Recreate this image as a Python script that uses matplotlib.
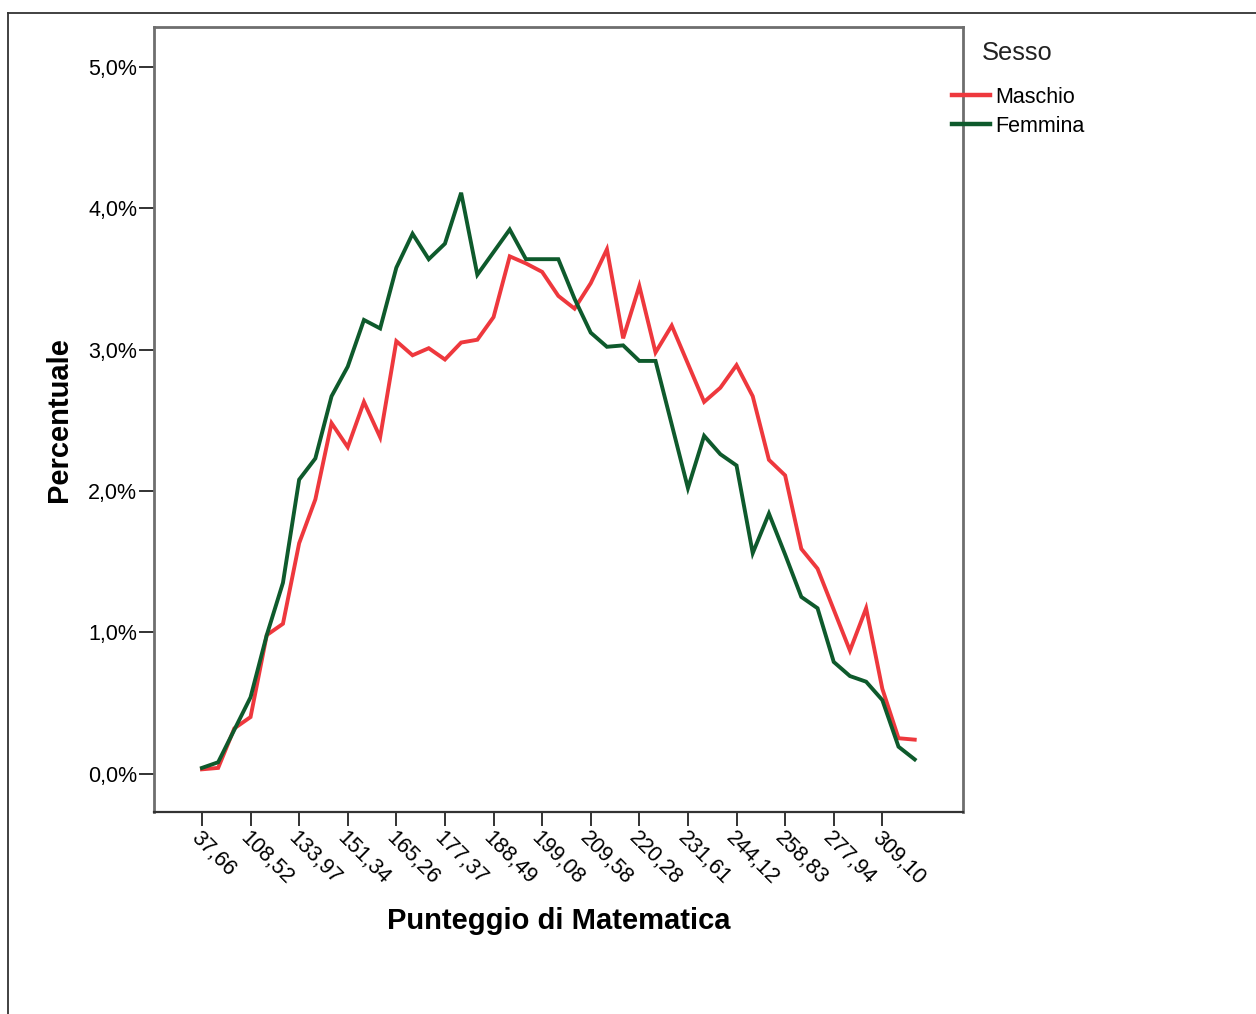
import matplotlib
matplotlib.use("Agg")
import matplotlib.pyplot as plt
from matplotlib.lines import Line2D
from matplotlib.ticker import FuncFormatter
from matplotlib.transforms import ScaledTranslation
import numpy as np

plt.rcParams['font.family'] = ['Liberation Sans', 'DejaVu Sans']

# ---- data ----
tick_labels = ['37,66', '108,52', '133,97', '151,34', '165,26', '177,37', '188,49',
               '199,08', '209,58', '220,28', '231,61', '244,12', '258,83', '277,94', '309,10']
maschio = [0.03, 0.04, 0.32, 0.40, 0.98, 1.06, 1.63, 1.94, 2.48, 2.31,
           2.63, 2.38, 3.06, 2.96, 3.01, 2.93, 3.05, 3.07, 3.23, 3.66,
           3.61, 3.55, 3.38, 3.29, 3.47, 3.71, 3.08, 3.45, 2.98, 3.17,
           2.90, 2.63, 2.73, 2.89, 2.67, 2.22, 2.11, 1.59, 1.45, 1.16,
           0.87, 1.17, 0.60, 0.25, 0.24]
femmina = [0.04, 0.08, 0.31, 0.54, 0.98, 1.35, 2.08, 2.23, 2.67, 2.88,
           3.21, 3.15, 3.58, 3.82, 3.64, 3.75, 4.11, 3.53, 3.69, 3.85,
           3.64, 3.64, 3.64, 3.36, 3.12, 3.02, 3.03, 2.92, 2.92, 2.47,
           2.02, 2.39, 2.26, 2.18, 1.56, 1.84, 1.55, 1.25, 1.17, 0.79,
           0.69, 0.65, 0.52, 0.19, 0.10]
series_names = ['Maschio', 'Femmina']
series_colors = ['#EE383D', '#0E5A2C']
y_ticks = [0, 1, 2, 3, 4, 5]

W, H = 1256, 1014
fig = plt.figure(figsize=(W / 100, H / 100), dpi=100)
fig.patch.set_facecolor('white')

# outer frame (top and left)
fig.add_artist(Line2D([8 / W, 8 / W], [0, 1 - 13 / H], color='#333333', lw=1.3))
fig.add_artist(Line2D([8 / W, 1], [1 - 13 / H, 1 - 13 / H], color='#333333', lw=1.3))

ax = fig.add_axes([154 / W, 1 - 812 / H, (963 - 154) / W, (812 - 27) / H])

x = np.arange(len(maschio))
for vals, name, col in zip([maschio, femmina], series_names, series_colors):
    ax.plot(x, vals, color=col, lw=2.8, label=name, solid_joinstyle='miter')

ax.set_xlim(-2.96, len(maschio) - 1 + 2.98)
ax.set_ylim(-0.272, 5.283)

ax.set_xticks(x[::3])
ax.set_xticklabels(tick_labels, rotation=-45, ha='left', va='top',
                   rotation_mode='anchor', fontsize=15.5)
shift = ScaledTranslation(4 / 100, 0, fig.dpi_scale_trans)
for lbl in ax.get_xticklabels():
    lbl.set_transform(lbl.get_transform() + shift)
ax.set_yticks(y_ticks)
ax.yaxis.set_major_formatter(FuncFormatter(lambda v, p: f"{v:.1f}%".replace('.', ',')))
ax.tick_params(axis='y', labelsize=15.5, length=11, width=1.3, color='#222222', pad=1)
ax.tick_params(axis='x', length=10, width=1.3, color='#222222', pad=1)

for s in ['left', 'top', 'right']:
    ax.spines[s].set_color('#6e6e6e')
    ax.spines[s].set_linewidth(2.0)
ax.spines['bottom'].set_color('#333333')
ax.spines['bottom'].set_linewidth(1.6)

ax.set_ylabel('Percentuale', fontsize=21, fontweight='bold', labelpad=11)
ax.set_xlabel('Punteggio di Matematica', fontsize=21, fontweight='bold', labelpad=13)

# legend
fig.text(982 / W, 1 - 53 / H, 'Sesso', fontsize=18.4, ha='left', va='center', color='#222222')
leg = ax.legend(loc='upper left', bbox_to_anchor=(952 / W, 1 - 87 / H),
                bbox_transform=fig.transFigure, frameon=False, fontsize=15.5,
                handlelength=1.77, handletextpad=0.25, labelspacing=0.36,
                borderpad=0, borderaxespad=0)
for h in leg.get_lines():
    h.set_linewidth(3.2)

fig.savefig('out.png', dpi=100)
